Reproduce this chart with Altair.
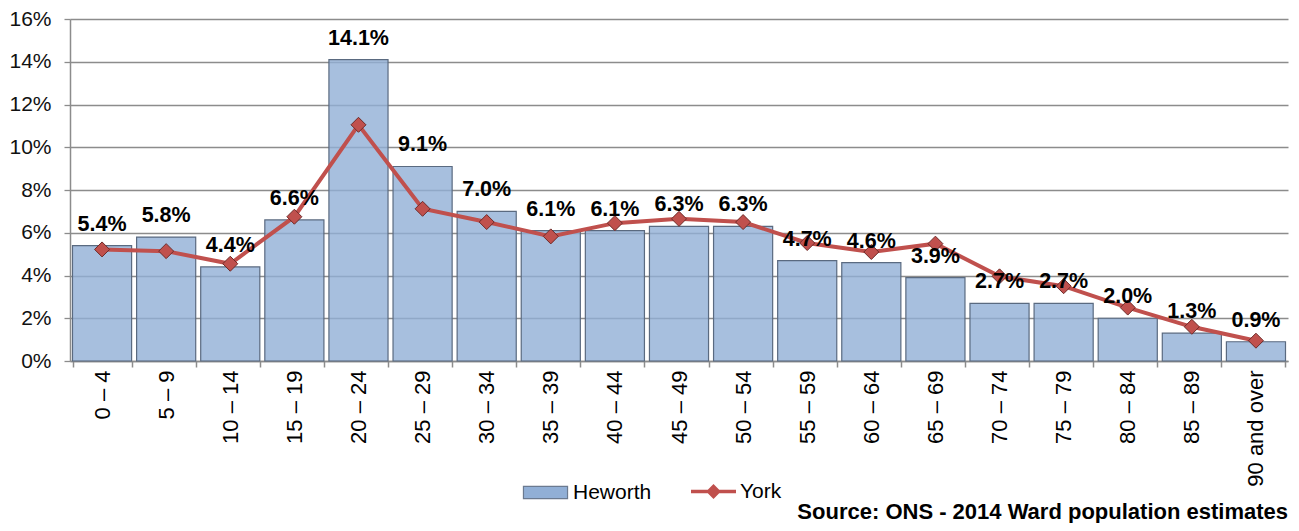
import altair as alt
import pandas as pd

ages = ["0 – 4", "5 – 9", "10 – 14", "15 – 19", "20 – 24", "25 – 29", "30 – 34",
        "35 – 39", "40 – 44", "45 – 49", "50 – 54", "55 – 59", "60 – 64", "65 – 69",
        "70 – 74", "75 – 79", "80 – 84", "85 – 89", "90 and over"]
heworth = [5.4, 5.8, 4.4, 6.6, 14.1, 9.1, 7.0, 6.1, 6.1, 6.3, 6.3, 4.7, 4.6, 3.9,
           2.7, 2.7, 2.0, 1.3, 0.9]
york = [5.22, 5.14, 4.55, 6.75, 11.05, 7.12, 6.50, 5.83, 6.45, 6.65, 6.50, 5.52,
        5.10, 5.49, 3.96, 3.50, 2.50, 1.60, 0.95]
y_ticks = [0, 2, 4, 6, 8, 10, 12, 14, 16]
source_text = "Source: ONS - 2014 Ward population estimates"

FONT = "Liberation Sans"
BAR_FILL = "#91AFD6"
RED = "#C0504D"

bar_df = pd.DataFrame({"age": ages, "value": heworth, "series": "Heworth"})
bar_df["label"] = [f"{v:.1f}%" for v in heworth]
line_df = pd.DataFrame({"age": ages, "value": york, "series": "York"})

x_enc = alt.X(
    "age:N", sort=ages,
    scale=alt.Scale(paddingInner=0.078, paddingOuter=0.039),
    axis=alt.Axis(title=None, labelAngle=270, labelFont=FONT, labelFontSize=22,
                  labelColor="#000000", labelPadding=3, tickBand="extent",
                  domainColor="#8C8C8C", tickColor="#8C8C8C", tickSize=6,
                  domainWidth=1.5, tickWidth=1.5, grid=False),
)
y_enc = alt.Y(
    "value:Q",
    scale=alt.Scale(domain=[0, 16], nice=False),
    axis=alt.Axis(title=None, values=y_ticks, labelExpr="datum.value + '%'",
                  labelFont=FONT, labelFontSize=21, labelColor="#111111",
                  labelPadding=13, grid=True, gridColor="#8C8C8C", gridWidth=1.3,
                  domainColor="#8C8C8C", domainWidth=1.5, tickColor="#8C8C8C",
                  tickSize=6, tickWidth=1.3),
)

heworth_legend = alt.Legend(
    title=None, orient="none", direction="horizontal",
    legendX=452, legendY=450, padding=0,
    symbolType="M-0.98,-0.27L0.98,-0.27L0.98,0.27L-0.98,0.27Z",
    symbolSize=2025, symbolFillColor="#A7BFDE", symbolStrokeColor="#6B7A90",
    symbolStrokeWidth=1.2, symbolOpacity=1,
    labelFont=FONT, labelFontSize=21, labelColor="#000000", labelOffset=4,
)
york_legend = alt.Legend(
    title=None, orient="none", direction="horizontal",
    legendX=621, legendY=450, padding=0,
    symbolType="M-1,-0.08L1,-0.08L1,0.08L-1,0.08ZM0,-0.33L0.33,0L0,0.33L-0.33,0Z",
    symbolSize=2025, symbolFillColor=RED, symbolStrokeWidth=0, symbolOpacity=1,
    labelFont=FONT, labelFontSize=21, labelColor="#000000", labelOffset=4,
)

bars = alt.Chart(bar_df).mark_bar(
    stroke="#5A6A80", strokeWidth=1.2, fillOpacity=0.8
).encode(
    x=x_enc, y=y_enc,
    fill=alt.Fill("series:N", scale=alt.Scale(domain=["Heworth"], range=[BAR_FILL]),
                  legend=heworth_legend),
)

labels = alt.Chart(bar_df).mark_text(
    font=FONT, fontSize=21.5, fontWeight="bold", color="#000000",
    baseline="alphabetic", dy=-15
).encode(x=x_enc, y=y_enc, text="label:N")

line = alt.Chart(line_df).mark_line(strokeWidth=4, color=RED).encode(x=x_enc, y=y_enc)

points = alt.Chart(line_df).mark_point(
    shape="diamond", size=225, filled=True, stroke="#6E2B29", strokeWidth=1, opacity=1
).encode(
    x=x_enc, y=y_enc,
    fill=alt.Fill("series:N", scale=alt.Scale(domain=["York"], range=[RED]),
                  legend=york_legend),
)

chart = alt.layer(bars, line, points, labels).properties(
    width=1218, height=342,
    autosize=alt.AutoSizeParams(type="none"),
    padding={"left": 62, "top": 11, "right": 3, "bottom": 162},
    title=alt.TitleParams(source_text, orient="bottom", anchor="end", frame="group",
                          font=FONT, fontSize=22, fontWeight="bold", color="#000000",
                          baseline="alphabetic", offset=16),
).resolve_scale(fill="independent").configure_view(stroke=None)

chart.save("out.html", embed_options={"renderer": "svg", "actions": False})
